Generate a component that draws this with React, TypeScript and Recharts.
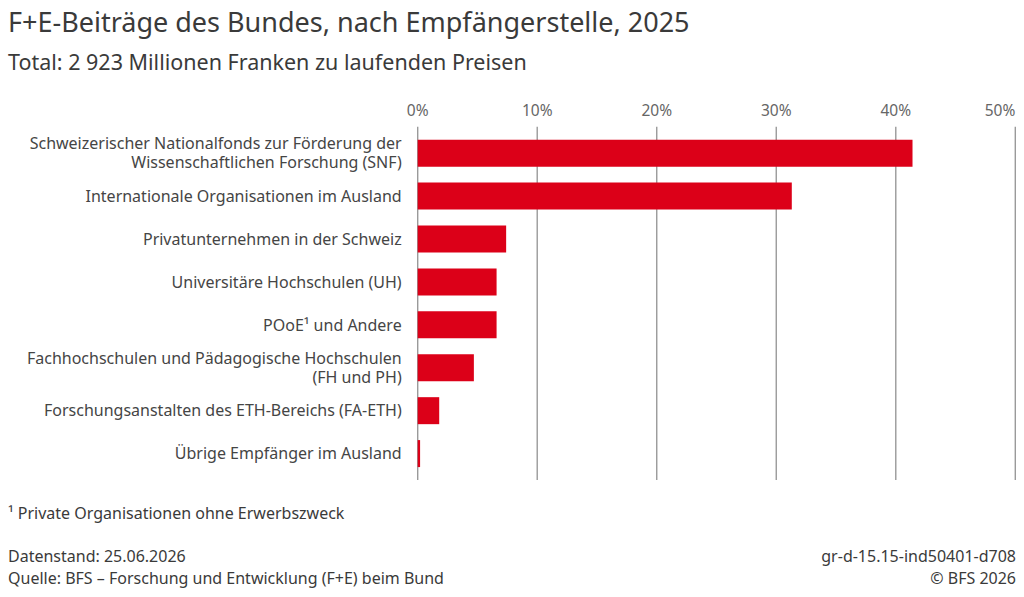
import React from 'react';
import { BarChart, Bar, XAxis, YAxis, CartesianGrid } from 'recharts';

// Empfängerstellen (Zeilenumbruch mit \n)
const categories = [
  'Schweizerischer Nationalfonds zur Förderung der\nWissenschaftlichen Forschung (SNF)',
  'Internationale Organisationen im Ausland',
  'Privatunternehmen in der Schweiz',
  'Universitäre Hochschulen (UH)',
  'POoE¹ und Andere',
  'Fachhochschulen und Pädagogische Hochschulen\n(FH und PH)',
  'Forschungsanstalten des ETH-Bereichs (FA-ETH)',
  'Übrige Empfänger im Ausland',
];

// Anteil am Total in %
const shares = [41.4, 31.3, 7.4, 6.6, 6.6, 4.7, 1.8, 0.2];

const xTicks = [0, 10, 20, 30, 40, 50];

const FONT = '"Noto Sans", sans-serif';
const RED = '#dc0018';

const data = categories.map((name, i) => ({ name, value: shares[i] }));

const CategoryTick = (props: any) => {
  const { x, y, payload } = props;
  const lines = String(payload.value).split('\n');
  const lh = 19;
  const first = -((lines.length - 1) * lh) / 2;
  return (
    <text x={x} y={y} textAnchor="end" fill="#454545" fontSize={16} fontFamily={FONT}>
      {lines.map((l, i) => (
        <tspan key={i} x={x} dy={i === 0 ? first + 5.8 : lh}>
          {l}
        </tspan>
      ))}
    </text>
  );
};

const PercentTick = (props: any) => {
  const { x, y, payload, index } = props;
  const last = index === xTicks.length - 1;
  return (
    <text x={x} y={y} textAnchor={last ? 'end' : 'middle'} fill="#666" fontSize={15.5} fontFamily={FONT}>
      {payload.value}%
    </text>
  );
};

export default function App() {
  return (
    <div style={{ position: 'absolute', left: 0, top: 0, width: 1024, height: 597, background: '#fff', fontFamily: FONT, color: '#3a3a3a' }}>
      <div style={{ position: 'absolute', left: 8, top: 6, fontSize: 27, lineHeight: '32px', whiteSpace: 'nowrap' }}>
        F+E-Beiträge des Bundes, nach Empfängerstelle, 2025
      </div>
      <div style={{ position: 'absolute', left: 8, top: 49, fontSize: 21.5, lineHeight: '26px', whiteSpace: 'nowrap' }}>
        Total: 2 923 Millionen Franken zu laufenden Preisen
      </div>

      <div style={{ position: 'absolute', left: 0, top: 0 }}>
        <BarChart
          width={1024}
          height={597}
          data={data}
          layout="vertical"
          margin={{ top: 96.7, right: 8.7, bottom: 117, left: 7.7 }}
        >
          <CartesianGrid horizontal={false} stroke="#9a9a9a" strokeWidth={1.4} />
          <XAxis
            type="number"
            orientation="top"
            domain={[0, 50]}
            ticks={xTicks}
            height={30}
            axisLine={false}
            tickLine={false}
            tickSize={0}
            tickMargin={11}
            tick={<PercentTick />}
            interval={0}
          />
          <YAxis
            type="category"
            dataKey="name"
            width={410}
            padding={{ top: 5, bottom: 5 }}
            axisLine={false}
            tickLine={false}
            tickSize={0}
            tickMargin={16}
            tick={<CategoryTick />}
            interval={0}
          />
          <Bar dataKey="value" fill={RED} barSize={27} isAnimationActive={false} />
        </BarChart>
      </div>

      <div style={{ position: 'absolute', left: 8, top: 503, fontSize: 16, lineHeight: '20px', whiteSpace: 'nowrap' }}>
        ¹ Private Organisationen ohne Erwerbszweck
      </div>
      <div style={{ position: 'absolute', left: 8, top: 545, fontSize: 16, lineHeight: '22px', whiteSpace: 'nowrap' }}>
        <div>Datenstand: 25.06.2026</div>
        <div>Quelle: BFS – Forschung und Entwicklung (F+E) beim Bund</div>
      </div>
      <div style={{ position: 'absolute', right: 8, top: 545, fontSize: 16, lineHeight: '22px', whiteSpace: 'nowrap', textAlign: 'right' }}>
        <div>gr-d-15.15-ind50401-d708</div>
        <div>© BFS 2026</div>
      </div>
    </div>
  );
}
